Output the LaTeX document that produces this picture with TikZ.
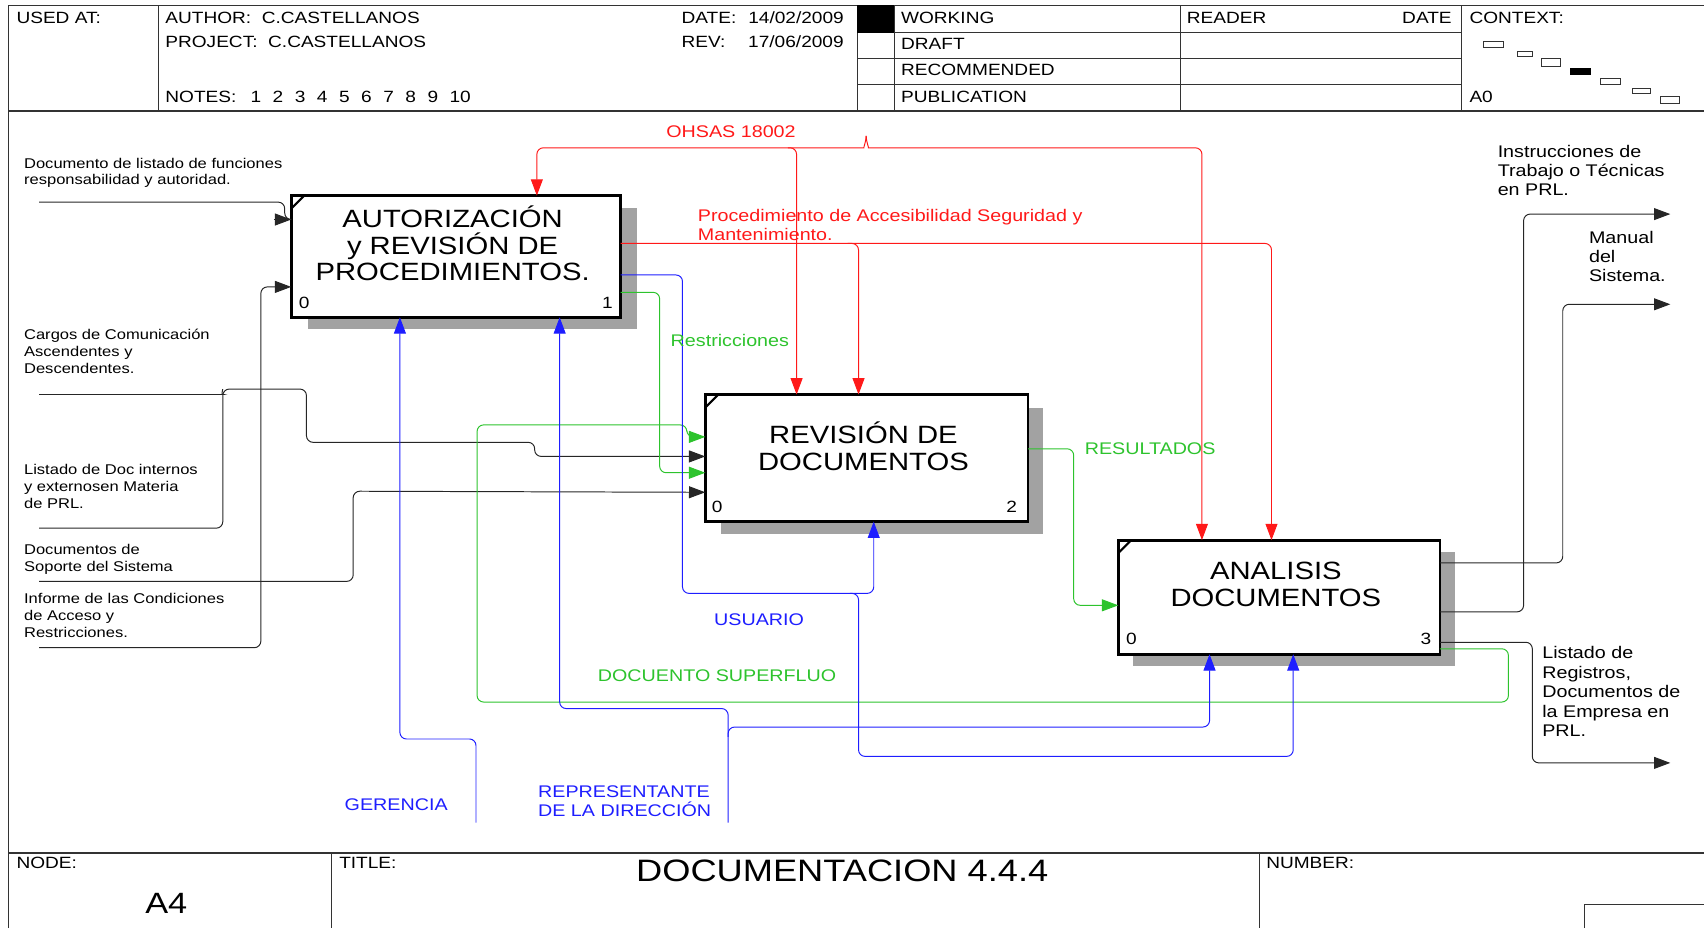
\documentclass[tikz,border=0pt]{standalone}
\usepackage{fontspec}
\setmainfont[FakeStretch=1.17]{Liberation Sans}
\usetikzlibrary{arrows.meta}
\definecolor{ired}{RGB}{255,25,25}
\definecolor{igreen}{RGB}{45,195,45}
\definecolor{iblue}{RGB}{30,30,255}
\definecolor{ishadow}{RGB}{162,162,162}
\begin{document}
\begin{tikzpicture}[x=1pt,y=-1pt,
  frame/.style={draw=black!80, line width=1.2pt},
  thin/.style={draw=black!80, line width=0.8pt},
  procbox/.style={draw=black, line width=2.6pt, fill=white, inner sep=0pt, outer sep=0pt},
  tick/.style={line width=2pt},
  boxtext/.style={font=\fontsize{23}{24.5}\selectfont, align=center, inner sep=0pt},
  boxnum/.style={font=\fontsize{15}{15}\selectfont, inner sep=0pt},
  hdr/.style={font=\fontsize{15}{15}\selectfont, anchor=base west, inner sep=0pt},
  lbl/.style={font=\fontsize{13}{15.5}\selectfont, align=left, anchor=north west, inner sep=0pt},
  rlbl/.style={font=\fontsize{15.5}{17.6}\selectfont, align=left, anchor=north west, inner sep=0pt},
  clbl/.style={font=\fontsize{15.5}{17.5}\selectfont, anchor=base west, inner sep=0pt},
  conn/.style={line width=0.9pt, rounded corners=6pt},
  tip/.style={-{Triangle[length=15pt,width=11pt]}},
  blk/.style={conn, draw=black!85},
  grn/.style={conn, draw=igreen},
  rd/.style={conn, draw=ired},
  blu/.style={conn, draw=iblue}
]
\path[use as bounding box] (0,0) rectangle (1568,854);

% ---------- frame and header ----------
\draw[frame] (8,854) -- (8,5) -- (1568,5);
\draw[frame] (8,102) -- (1568,102);
\draw[frame] (146,5) -- (146,102);
\draw[frame] (789,5) -- (789,102);
\draw[frame] (823,5) -- (823,102);
\draw[frame] (1086,5) -- (1086,102);
\draw[frame] (1345,5) -- (1345,102);
\draw[thin] (789,30) -- (1345,30);
\draw[thin] (789,54) -- (1345,54);
\draw[thin] (789,78) -- (1345,78);
\fill[black] (789,5) rectangle (823,30);

\node[hdr] (usedat) at (15,21.5) {USED AT:};
\node[hdr] (author) at (152,21.5) {AUTHOR:\ \ C.CASTELLANOS};
\node[hdr] (project) at (152,43.5) {PROJECT:\ \ C.CASTELLANOS};
\node[hdr] (notes) at (152,94.5) {NOTES:\hspace{13pt}1\hspace{10.6pt}2\hspace{10.6pt}3\hspace{10.6pt}4\hspace{10.6pt}5\hspace{10.6pt}6\hspace{10.6pt}7\hspace{10.6pt}8\hspace{10.6pt}9\hspace{10.6pt}10};
\node[hdr] (date) at (627,21.5) {DATE:\hspace{11pt}14/02/2009};
\node[hdr] (rev) at (627,43.5) {REV:\hspace{21pt}17/06/2009};
\node[hdr] (working) at (829,21.5) {WORKING};
\node[hdr] (draft) at (829,45.5) {DRAFT};
\node[hdr] (recommended) at (829,69.5) {RECOMMENDED};
\node[hdr] (publication) at (829,94.5) {PUBLICATION};
\node[hdr] (reader) at (1092,21.5) {READER};
\node[hdr, anchor=base east] (rdate) at (1336,21.5) {DATE};
\node[hdr] (context) at (1352,21.5) {CONTEXT:};
\node[hdr] (a0) at (1352,94.5) {A0};

\draw[thin] (1365,38) rectangle (1383,44);
\draw[thin] (1396,47) rectangle (1410,52);
\draw[thin] (1418,54) rectangle (1436,61);
\fill[black] (1445,63) rectangle (1464,69);
\draw[thin] (1473,72) rectangle (1491,78);
\draw[thin] (1502,81) rectangle (1519,86);
\draw[thin] (1528,89) rectangle (1545,95);

% ---------- title block ----------
\draw[frame] (8,785) -- (1568,785);
\draw[frame] (305,785) -- (305,854);
\draw[frame] (1159,785) -- (1159,854);
\draw[thin] (1458,854) -- (1458,832) -- (1568,832);
\node[hdr] (nodelbl) at (15,799.5) {NODE:};
\node[hdr] (titlelbl) at (312,799.5) {TITLE:};
\node[hdr] (numberlbl) at (1165,799.5) {NUMBER:};
\node[font=\fontsize{27}{27}\selectfont, anchor=base, inner sep=0pt] (nodeval) at (153,840.5) {A4};
\node[font=\fontsize{28.5}{28.5}\selectfont, anchor=base, inner sep=0pt] (titleval) at (775,811) {DOCUMENTACION 4.4.4};

% ---------- boxes ----------
\fill[ishadow] (283,191) rectangle (586,303);
\fill[ishadow] (663,375) rectangle (960,491);
\fill[ishadow] (1043,508) rectangle (1339,613);

\node[procbox, minimum width=303pt, minimum height=112pt] (b1) at (419.5,236) {};
\node[procbox, minimum width=297pt, minimum height=117pt] (b2) at (797.5,421.5) {};
\node[procbox, minimum width=296pt, minimum height=105pt] (b3) at (1177,549.5) {};

\draw[tick] ([yshift=-12pt]b1.north west) -- ([xshift=12pt]b1.north west);
\draw[tick] ([yshift=-12pt]b2.north west) -- ([xshift=12pt]b2.north west);
\draw[tick] ([yshift=-12pt]b3.north west) -- ([xshift=12pt]b3.north west);

\node[boxtext] (b1t) at ([xshift=-3pt,yshift=12pt]b1.center) {AUTORIZACIÓN\\y REVISIÓN DE\\PROCEDIMIENTOS.};
\node[boxtext] (b2t) at ([xshift=-3pt,yshift=11pt]b2.center) {REVISIÓN DE\\DOCUMENTOS};
\node[boxtext] (b3t) at ([xshift=-3pt,yshift=12pt]b3.center) {ANALISIS\\DOCUMENTOS};

\node[boxnum] (b1n0) at (280,279) {0};
\node[boxnum] (b1n1) at (559,279) {1};
\node[boxnum] (b2n0) at (660,466) {0};
\node[boxnum] (b2n2) at (931,466) {2};
\node[boxnum] (b3n0) at (1041,588) {0};
\node[boxnum] (b3n3) at (1312,588) {3};

% ---------- free ends ----------
\coordinate (in1) at (36,186);
\coordinate (in2) at (36,363);
\coordinate (in3) at (36,486);
\coordinate (in4) at (36,535);
\coordinate (in5) at (36,596);
\coordinate (ohsas) at (797,125);
\coordinate (ger) at (438,757);
\coordinate (rep) at (670,757);
\coordinate (out1) at (1537,197);
\coordinate (out2) at (1537,280);
\coordinate (out3) at (1537,702);

% ---------- black inputs ----------
\draw[blk] (in1) -| (262,202) -- ([yshift=34pt]b1.west);
\draw[blk,tip] ([xshift=-16pt,yshift=34pt]b1.west) -- ([yshift=34pt]b1.west);
\draw[blk,tip] (in5) -| (240,264) -- ([yshift=-28pt]b1.west);
\draw[blk] (in2) -- (200,363) to[out=0,in=-90] (205,358);
\draw[blk,tip] (in3) -| (205,358) -- (282,358) -- (282,407) -- (492,407) -- (492,420) -- ([yshift=1.5pt]b2.west);
\draw[blk,tip] (in4) -| (325,452) -- ([yshift=-31.5pt]b2.west);

% ---------- green ----------
\draw[grn,tip] ([yshift=-33pt]b1.east) -| (607,435) -- ([yshift=-13.5pt]b2.west);
\draw[grn,tip] ([yshift=-47.5pt]b3.east) -| (1388,646) -| (439,391) -| (632,402) -- ([yshift=19.5pt]b2.west);
\draw[grn,tip] ([yshift=8.5pt]b2.east) -| (988,557) -- ([yshift=-7.5pt]b3.west);

% ---------- red ----------
\draw[rd,tip] (ohsas) to[out=-90,in=0] (789,136) -| ([xshift=74.5pt]b1.north);
\draw[rd,tip] (ohsas) to[out=-90,in=180] (805,136) -| ([xshift=-71pt]b3.north);
\draw[rd,tip] (725,136) -| ([xshift=-64.5pt]b2.north);
\draw[rd,tip] ([yshift=12pt]b1.east) -| ([xshift=-7pt]b3.north);
\draw[rd,tip] (780,224) -| ([xshift=-7.5pt]b2.north);

% ---------- blue ----------
\draw[blu,tip] (ger) |- (368,680) -- ([xshift=-51.5pt]b1.south);
\draw[blu,tip] (rep) -- (670,669) -| ([xshift=-64pt]b3.south);
\draw[blu,tip] (670,678) -- (670,652) -| ([xshift=95.5pt]b1.south);
\draw[blu,tip] ([yshift=-17pt]b1.east) -| (628,546) -| ([xshift=6.5pt]b2.south);
\draw[blu,tip] (782,546) -| (790,696) -| ([xshift=13pt]b3.south);

% ---------- outputs ----------
\draw[blk,tip] ([yshift=-13.5pt]b3.east) -| (1402,197) -- (out1);
\draw[blk,tip] ([yshift=31.5pt]b3.east) -| (1438,280) -- (out2);
\draw[blk,tip] ([yshift=-41.5pt]b3.east) -| (1410,702) -- (out3);

% ---------- labels ----------
\node[lbl] (l1) at (22,145) {Documento de listado de funciones\\responsabilidad y autoridad.};
\node[lbl] (l2) at (22,303) {Cargos de Comunicación\\Ascendentes y\\Descendentes.};
\node[lbl] (l3) at (22,427) {Listado de Doc internos\\y externosen Materia\\de PRL.};
\node[lbl] (l4) at (22,501) {Documentos de\\Soporte del Sistema};
\node[lbl] (l5) at (22,546) {Informe de las Condiciones\\de Acceso y\\Restricciones.};

\node[rlbl] (r1) at (1378,133.5) {Instrucciones de\\Trabajo o Técnicas\\en PRL.};
\node[rlbl] (r2) at (1462,212.5) {Manual\\del\\Sistema.};
\node[rlbl, font=\fontsize{15.5}{18}\selectfont] (r3) at (1419,594.5) {Listado de\\Registros,\\Documentos de\\la Empresa en\\PRL.};

\node[clbl, text=ired] (lohsas) at (613,126.5) {OHSAS 18002};
\node[rlbl, text=ired, font=\fontsize{15.5}{17}\selectfont] (lproc) at (642,192.5) {Procedimiento de Accesibilidad Seguridad y\\Mantenimiento.};
\node[clbl, text=igreen] (lrest) at (617,318.5) {Restricciones};
\node[clbl, text=igreen] (lres) at (998,418.5) {RESULTADOS};
\node[clbl, text=iblue] (lusu) at (657,575.5) {USUARIO};
\node[clbl, text=igreen] (lsup) at (550,627.5) {DOCUENTO SUPERFLUO};
\node[clbl, text=iblue] (lger) at (317,745.5) {GERENCIA};
\node[rlbl, text=iblue, font=\fontsize{15.5}{18}\selectfont] (lrep) at (495,722.5) {REPRESENTANTE\\DE LA DIRECCIÓN};
\end{tikzpicture}
\end{document}
